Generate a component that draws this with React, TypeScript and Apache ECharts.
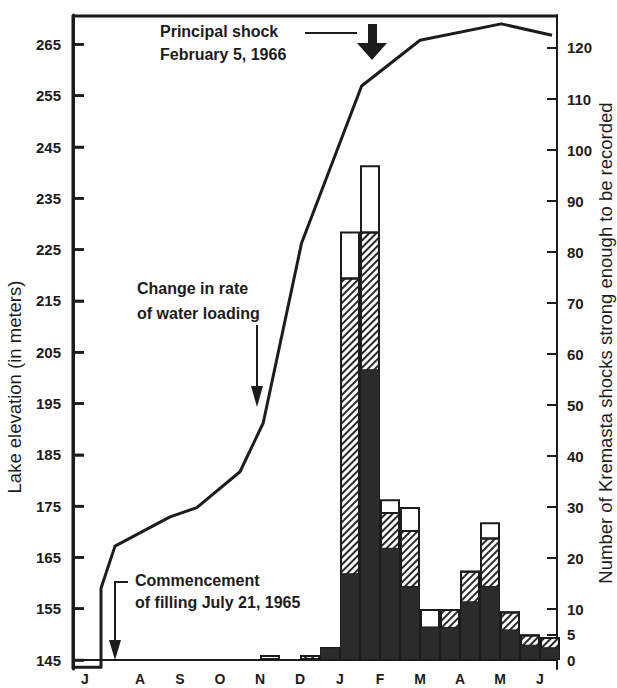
import React, { useEffect, useRef } from "react";
import * as echarts from "echarts";

// Months since 1 July 1965 (x axis), tick labels
const monthLetters = ["J", "A", "S", "O", "N", "D", "J", "F", "M", "A", "M", "J"];
const monthLabelPos = [0.12, 1.5, 2.5, 3.5, 4.5, 5.5, 6.5, 7.5, 8.5, 9.5, 10.5, 11.5];
const elevTicks = [145, 155, 165, 175, 185, 195, 205, 215, 225, 235, 245, 255, 265];
const shockTicks = [0, 5, 10, 20, 30, 40, 50, 60, 70, 80, 90, 100, 110, 120];

// Lake elevation curve (months since 1 July 1965, metres)
const lakeMonth = [-0.175, 0.525, 0.525, 0.875, 2.25, 2.92, 4.0, 4.58, 5.54, 7.04, 8.5, 10.53, 11.8];
const lakeElev = [143.6, 143.6, 159.0, 167.2, 172.9, 174.7, 181.7, 191.2, 226.3, 256.9, 265.8, 269.0, 266.8];

// Half-month shock counts (bin centres in months since 1 July 1965)
const binCenter = [4.75, 5.75, 6.25, 6.75, 7.25, 7.75, 8.25, 8.75, 9.25, 9.75, 10.25, 10.75, 11.25, 11.75];
const darkTop = [0, 0, 2.5, 17, 57, 22, 14.5, 6.5, 6.5, 11.5, 14.5, 6, 3, 2.5];
const hatchTop = [0, 1, 2.5, 75, 84, 29, 25.5, 6.5, 10, 17.5, 24, 9.5, 5, 4.5];
const totalTop = [1, 1, 2.5, 84, 97, 31.5, 30, 10, 10, 17.5, 27, 9.5, 5, 4.5];

const X_MIN = -0.175;
const X_MAX = 11.925;
const ELEV_MIN = 143.25;
const ELEV_MAX = 270.73;
const GRID = { left: 73, right: 60, top: 15, bottom: 19 };
const W = 617;
const H = 688;
const INK = "#1c1c1c";
const FONT = "'Liberation Sans', Arial, Helvetica, sans-serif";

export default function App() {
  const ref = useRef<HTMLDivElement>(null);
  useEffect(() => {
    if (!ref.current) return;
    const chart = echarts.init(ref.current, null, { renderer: "svg" });
    const pair = (xs: number[], ys: number[]) => xs.map((x, i) => [x, ys[i]]);
    const barBase = {
      type: "bar",
      xAxisIndex: 0,
      yAxisIndex: 1,
      barWidth: "100%",
      barGap: "-100%",
    };
    const boldText = (text: string, x: number, y: number) => ({
      type: "text",
      x,
      y,
      z: 100,
      style: { text, fontSize: 16, fontWeight: "bold", fontFamily: FONT, fill: INK, verticalAlign: "middle" },
    });
    chart.setOption({
      animation: false,
      textStyle: { fontFamily: FONT },
      grid: { ...GRID },
      xAxis: [
        {
          type: "value",
          min: X_MIN,
          max: X_MAX,
          axisLine: { show: false, onZero: false },
          axisTick: { show: false },
          splitLine: { show: false },
          axisLabel: {
            customValues: monthLabelPos,
            margin: 3,
            color: INK,
            fontSize: 14,
            fontWeight: "bold",
            fontFamily: FONT,
            formatter: (v: number) => {
              const i = monthLabelPos.findIndex((p) => Math.abs(p - v) < 1e-6);
              return i >= 0 ? monthLetters[i] : "";
            },
          },
        },
      ],
      yAxis: [
        {
          type: "value",
          position: "left",
          min: ELEV_MIN,
          max: ELEV_MAX,
          axisLine: { show: true, onZero: false, lineStyle: { color: INK, width: 3 } },
          axisTick: { show: true, inside: true, length: 11, customValues: elevTicks, lineStyle: { color: INK, width: 2.5 } },
          axisLabel: { customValues: elevTicks, margin: 12, color: INK, fontSize: 15, fontWeight: "bold", fontFamily: FONT },
          splitLine: { show: false },
        },
        {
          type: "value",
          position: "right",
          min: -1.76,
          max: 126.47,
          axisLine: { show: true, onZero: false, lineStyle: { color: INK, width: 2 } },
          axisTick: { show: true, inside: true, length: 10, customValues: shockTicks, lineStyle: { color: INK, width: 2 } },
          axisLabel: { customValues: shockTicks, margin: 10, color: INK, fontSize: 15, fontWeight: "bold", fontFamily: FONT },
          splitLine: { show: false },
        },
      ],
      series: [
        {
          ...barBase,
          name: "total",
          data: pair(binCenter, totalTop),
          itemStyle: { color: "#ffffff", borderColor: INK, borderWidth: 2 },
        },
        {
          ...barBase,
          name: "hatched",
          data: pair(binCenter, hatchTop),
          itemStyle: {
            color: "#ffffff",
            borderColor: INK,
            borderWidth: 2,
            decal: {
              symbol: "rect",
              symbolSize: 1,
              color: "#2a2a2a",
              dashArrayX: [1, 0],
              dashArrayY: [2, 3],
              rotation: -Math.PI / 4,
            },
          },
        },
        {
          ...barBase,
          name: "dark",
          data: pair(binCenter, darkTop),
          itemStyle: { color: "#2b2b2b", borderColor: INK, borderWidth: 1 },
        },
        {
          type: "line",
          name: "lake",
          xAxisIndex: 0,
          yAxisIndex: 0,
          data: pair(lakeMonth, lakeElev),
          symbol: "none",
          z: 5,
          lineStyle: { color: INK, width: 3, join: "round" },
          markLine: {
            silent: true,
            symbol: "none",
            label: { show: false },
            lineStyle: { color: INK, width: 2, type: "solid" },
            data: [{ yAxis: 145 }],
          },
        },
      ],
    });

    // Frame (left axis line, its ticks, top border) placed through the axes' own scales
    const plotH = H - GRID.top - GRID.bottom;
    const safe = (r: any, fb: number) => (typeof r === "number" && Number.isFinite(r) ? r : fb);
    const px = (v: number) =>
      safe(chart.convertToPixel({ xAxisIndex: 0 }, v), GRID.left + ((v - X_MIN) / (X_MAX - X_MIN)) * (W - GRID.left - GRID.right));
    const py = (v: number) =>
      safe(chart.convertToPixel({ yAxisIndex: 0 }, v), GRID.top + ((ELEV_MAX - v) / (ELEV_MAX - ELEV_MIN)) * plotH);
    const xl = px(X_MIN);
    const xr = px(X_MAX);
    const yt = py(ELEV_MAX);
    const yb = py(ELEV_MIN);
    const frameStyle = { stroke: INK, lineWidth: 3 };
    const frame: any[] = [
      { type: "line", zlevel: 1, z: 1000, shape: { x1: xl, y1: yt, x2: xl, y2: yb }, style: frameStyle },
      { type: "line", zlevel: 1, z: 1000, shape: { x1: xl, y1: yt + 1, x2: xr, y2: yt + 1 }, style: frameStyle },
      ...elevTicks.map((v) => ({
        type: "line",
        zlevel: 1,
        z: 1000,
        shape: { x1: xl, y1: py(v), x2: xl + 11, y2: py(v) },
        style: { stroke: INK, lineWidth: 2.5 },
      })),
    ];

    chart.setOption({
      graphic: [
        {
          type: "text",
          x: 14,
          y: 387,
          z: 100,
          rotation: Math.PI / 2,
          style: { text: "Lake elevation (in meters)", fontSize: 18.5, fontFamily: FONT, fill: INK, align: "center", verticalAlign: "middle" },
        },
        {
          type: "text",
          x: 605,
          y: 343,
          z: 100,
          rotation: Math.PI / 2,
          style: { text: "Number of Kremasta shocks strong enough to be recorded", fontSize: 18.5, fontFamily: FONT, fill: INK, align: "center", verticalAlign: "middle" },
        },
        boldText("Principal shock", 160, 31),
        boldText("February 5, 1966", 160, 54),
        { type: "line", z: 100, shape: { x1: 305, y1: 33, x2: 357, y2: 33 }, style: { stroke: INK, lineWidth: 2 } },
        {
          type: "polygon",
          z: 100,
          shape: { points: [[368, 24], [377, 24], [377, 43], [387, 43], [372, 60], [357, 43], [368, 43]] },
          style: { fill: INK },
        },
        boldText("Change in rate", 137, 288),
        boldText("of water loading", 137, 313),
        { type: "line", z: 100, shape: { x1: 257, y1: 325, x2: 257, y2: 392 }, style: { stroke: INK, lineWidth: 2 } },
        { type: "polygon", z: 100, shape: { points: [[251, 386], [263, 386], [257, 407]] }, style: { fill: INK } },
        boldText("Commencement", 135, 580),
        boldText("of filling July 21, 1965", 135, 602),
        { type: "polyline", z: 100, shape: { points: [[128, 582], [115, 582], [115, 645]] }, style: { stroke: INK, lineWidth: 2, fill: "none" } },
        { type: "polygon", z: 100, shape: { points: [[109, 640], [121, 640], [115, 660]] }, style: { fill: INK } },
        ...frame,
      ],
    });
    return () => chart.dispose();
  }, []);
  return <div ref={ref} style={{ position: "fixed", left: 0, top: 0, width: W, height: H, background: "#ffffff" }} />;
}
